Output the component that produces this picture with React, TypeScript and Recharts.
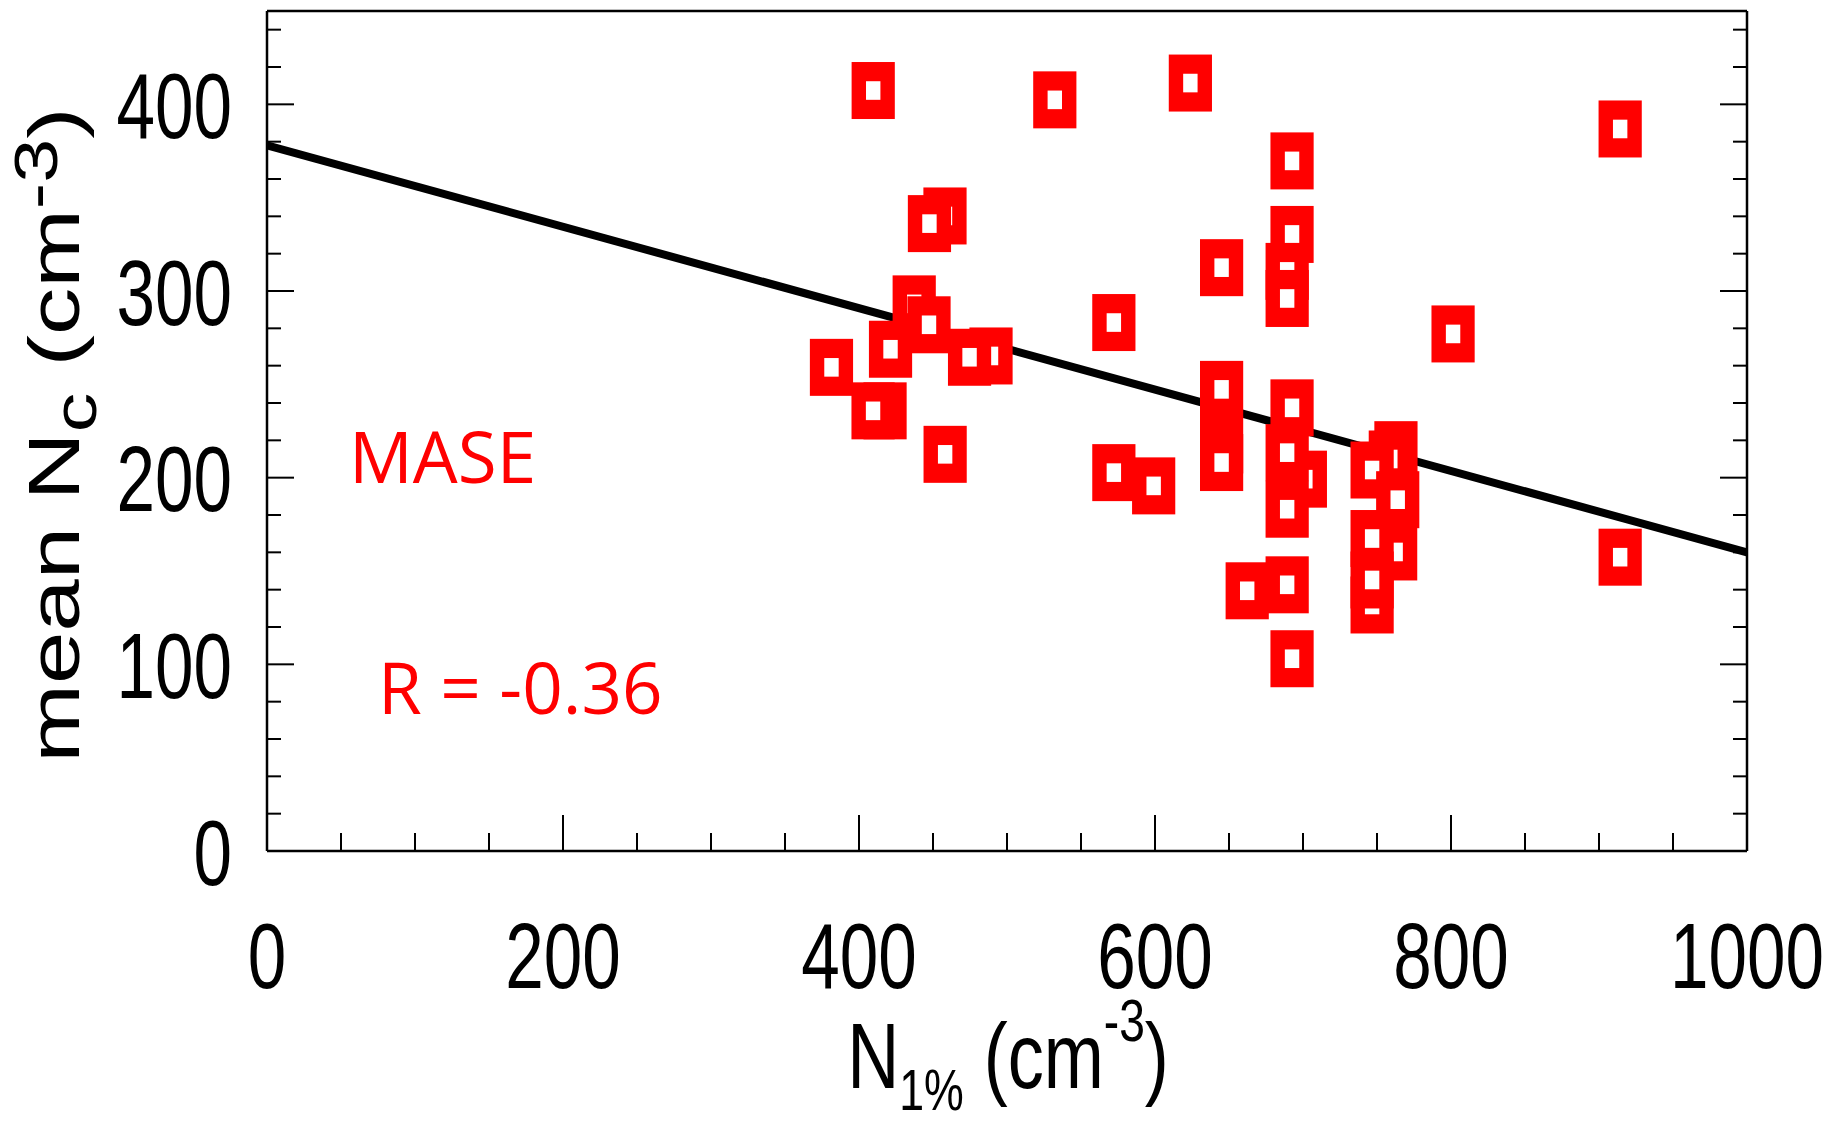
import React from 'react';
import { ScatterChart, Scatter, XAxis, YAxis } from 'recharts';

// N1% (cm^-3) values of the MASE points
const nOnePct = [
  458.1, 447.6, 409.6, 532.3, 623.9, 914.3, 692.6, 692.6, 689.3, 689.3,
  645.0, 801.4, 437.3, 447.3, 421.3, 381.4, 489.2, 474.7, 572.2, 417.6,
  409.5, 458.2, 645.0, 645.0, 645.0, 701.6, 692.6, 689.3, 689.3, 572.2,
  599.1, 662.3, 689.3, 692.6, 762.8, 759.0, 746.7, 764.0, 762.6, 746.7,
  746.7, 746.7, 914.3,
];
// mean Nc (cm^-3) values of the MASE points
const meanNc = [
  340.2, 336.1, 407.4, 402.4, 411.4, 386.8, 369.7, 330.3, 310.5, 296.0,
  312.5, 277.0, 293.1, 281.9, 268.8, 259.1, 265.2, 264.5, 283.1, 235.8,
  235.8, 212.5, 217.5, 247.3, 208.1, 199.2, 237.4, 213.4, 183.1, 202.7,
  195.6, 139.4, 142.6, 103.0, 215.0, 210.0, 204.1, 188.2, 160.2, 131.8,
  145.2, 167.4, 157.4,
];
// regression line end points
const fitX = [0, 1000];
const fitY = [378, 160];

const xTicks = [0, 50, 100, 150, 200, 250, 300, 350, 400, 450, 500, 550, 600, 650, 700, 750, 800, 850, 900, 950, 1000];
const yTicks = [0, 20, 40, 60, 80, 100, 120, 140, 160, 180, 200, 220, 240, 260, 280, 300, 320, 340, 360, 380, 400, 420, 440];
const xMajor = [0, 200, 400, 600, 800, 1000];
const yMajor = [0, 100, 200, 300, 400];

const points = nOnePct.map((x, i) => ({ x, y: meanNc[i] }));
const fitPoints = fitX.map((x, i) => ({ x, y: fitY[i] }));

const RED = '#FF0000';
const TICK_FONT = "'Liberation Sans', Arial, Helvetica, sans-serif";
const SX = 0.74;

const MarkerShape = (props: any) => {
  const { cx, cy } = props;
  if (cx == null || cy == null) return <g />;
  return (
    <g>
      <rect x={cx - 21.6} y={cy - 28.5} width={43.2} height={57} fill={RED} />
      <rect x={cx - 7.2} y={cy - 9.3} width={14.4} height={18.6} fill="#FFFFFF" />
    </g>
  );
};

const NoShape = () => <g />;

const BottomTick = (props: any) => {
  const { x, y, payload } = props;
  const v = payload.value;
  const major = xMajor.includes(v);
  return (
    <g>
      <line x1={x} x2={x} y1={y} y2={y - (major ? 36 : 18)} stroke="#000" strokeWidth={2} />
      {major && (
        <text transform={`translate(${x},${y + 137}) scale(${SX},1)`} textAnchor="middle" fontSize={93.6} fontFamily={TICK_FONT} fill="#000">
          {v}
        </text>
      )}
    </g>
  );
};

const TopTick = (props: any) => {
  const { x, y, payload } = props;
  const major = xMajor.includes(payload.value);
  return <line x1={x} x2={x} y1={y} y2={y + (major ? 36 : 18)} stroke="#000" strokeWidth={2} />;
};

const LeftTick = (props: any) => {
  const { x, y, payload } = props;
  const v = payload.value;
  const major = yMajor.includes(v);
  return (
    <g>
      <line x1={x} x2={x + (major ? 27 : 14)} y1={y} y2={y} stroke="#000" strokeWidth={2} />
      {major && (
        <text transform={`translate(${x - 35},${y + 33.5}) scale(${SX},1)`} textAnchor="end" fontSize={93.6} fontFamily={TICK_FONT} fill="#000">
          {v}
        </text>
      )}
    </g>
  );
};

const RightTick = (props: any) => {
  const { x, y, payload } = props;
  const major = yMajor.includes(payload.value);
  return <line x1={x} x2={x - (major ? 27 : 14)} y1={y} y2={y} stroke="#000" strokeWidth={2} />;
};

const axisLine = { stroke: '#000', strokeWidth: 2.5 };

export default function App() {
  return (
    <div style={{ position: 'absolute', left: 0, top: 0, width: 1831, height: 1125, background: '#fff' }}>
      <ScatterChart width={1831} height={1125} margin={{ top: 10, right: 83, bottom: 273, left: 266 }}>
        <XAxis dataKey="x" type="number" domain={[0, 1000]} ticks={xTicks} interval={0} height={1}
          tickSize={0} tickMargin={0} tickLine={false} axisLine={axisLine} tick={<BottomTick />} allowDataOverflow />
        <XAxis xAxisId="top" orientation="top" type="number" domain={[0, 1000]} ticks={xTicks} interval={0} height={1}
          tickSize={0} tickMargin={0} tickLine={false} axisLine={axisLine} tick={<TopTick />} allowDataOverflow />
        <YAxis dataKey="y" type="number" domain={[0, 450]} ticks={yTicks} interval={0} width={1}
          tickSize={0} tickMargin={0} tickLine={false} axisLine={axisLine} tick={<LeftTick />} allowDataOverflow />
        <YAxis yAxisId="right" orientation="right" type="number" domain={[0, 450]} ticks={yTicks} interval={0} width={1}
          tickSize={0} tickMargin={0} tickLine={false} axisLine={axisLine} tick={<RightTick />} allowDataOverflow />
        <Scatter data={fitPoints} stroke="#000" strokeWidth={8} line={{ stroke: '#000', strokeWidth: 8 }} lineType="joint" shape={NoShape} isAnimationActive={false} />
        <Scatter data={points} shape={MarkerShape} isAnimationActive={false} />
      </ScatterChart>
      <svg width={1831} height={1125} style={{ position: 'absolute', left: 0, top: 0, pointerEvents: 'none' }}>
        <text x={349} y={483} fontSize={71} fontFamily="'Open Sans', sans-serif" fill={RED}>MASE</text>
        <text x={378} y={714} fontSize={71} fontFamily="'Open Sans', sans-serif" fill={RED}>R = -0.36</text>
        <text transform="translate(1008,1088) scale(0.77,1)" textAnchor="middle" fontSize={93.6} fontFamily={TICK_FONT} fill="#000">
          <tspan>N</tspan>
          <tspan fontSize={58} dy={22}>1%</tspan>
          <tspan dy={-22}>{' (cm'}</tspan>
          <tspan fontSize={60} dy={-47}>-3</tspan>
          <tspan dy={47}>)</tspan>
        </text>
        <text transform="translate(79,435) scale(1,1.3) rotate(-90)" textAnchor="middle" fontSize={72.6} fontFamily={TICK_FONT} fill="#000">
          <tspan>{'mean N'}</tspan>
          <tspan fontSize={61} dy={17}>c</tspan>
          <tspan dy={-17}>{' (cm'}</tspan>
          <tspan fontSize={61} dy={-21.6}>-3</tspan>
          <tspan dy={21.6}>)</tspan>
        </text>
      </svg>
    </div>
  );
}
